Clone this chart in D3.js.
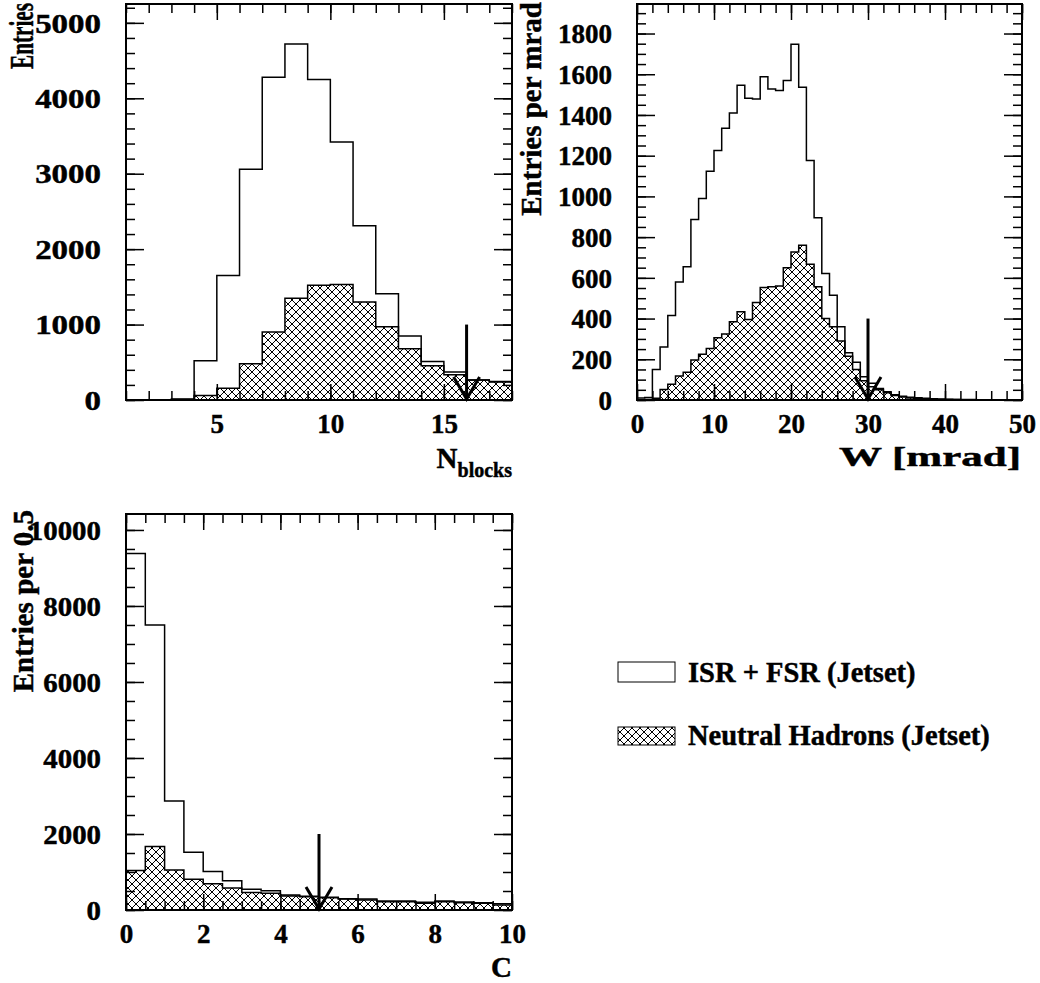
<!DOCTYPE html>
<html>
<head>
<meta charset="utf-8">
<script src="https://cdn.jsdelivr.net/npm/d3@7"></script>
<style>
  body { margin: 0; background: #fff; }
  svg text { font-family: "Liberation Serif", "Times New Roman", serif; font-weight: bold; fill: #000; stroke: #000; stroke-width: 0.45px; }
</style>
</head>
<body>
<svg id="fig" width="1040" height="983"></svg>
<script>
// ---- data ----
// N_blocks, bins of width 1 from 1 to 18
var nblkLo = 1, nblkBin = 1;
var nblkIsr = [0, 0, 12, 520, 1650, 3060, 4280, 4720, 4250, 3420, 2310, 1410, 850, 510, 370, 265, 245];
var nblkHad = [0, 0, 5, 60, 155, 480, 900, 1350, 1520, 1530, 1300, 970, 680, 455, 335, 265, 240];
var nblkTicks = [5, 10, 15];
var nblkYTicks = [0, 1000, 2000, 3000, 4000, 5000];
var nblkCut = 16;

// W [mrad], bins of width 1 from 0 to 50
var wLo = 0, wBin = 1;
var wIsr = [10, 12, 150, 260, 415, 580, 655, 887, 990, 1124,
            1226, 1335, 1410, 1546, 1482, 1479, 1588, 1528, 1520, 1569,
            1747, 1536, 1176, 895, 621, 515, 360, 232, 185, 114,
            82, 57, 41, 26, 18, 14, 11, 8, 6, 5,
            4, 3, 2, 2, 1, 1, 1, 0, 0, 0];
var wHad = [0, 3, 8, 52, 77, 118, 136, 196, 225, 253,
            306, 324, 384, 433, 395, 479, 552, 556, 560, 650,
            727, 760, 667, 556, 400, 360, 290, 215, 150, 95,
            65, 50, 35, 22, 15, 10, 8, 5, 4, 3,
            2, 2, 1, 1, 0, 0, 0, 0, 0, 0];
var wTicks = [0, 10, 20, 30, 40, 50];
var wYTicks = [0, 200, 400, 600, 800, 1000, 1200, 1400, 1600, 1800];
var wCut = 30;

// C, bins of width 0.5 from 0 to 10
var cLo = 0, cBin = 0.5;
var cIsr = [9380, 7500, 2870, 1520, 1010, 770, 545, 505, 395, 360,
            333, 298, 290, 237, 237, 202, 237, 210, 193, 166];
var cHad = [1040, 1670, 1050, 810, 690, 580, 460, 440, 368, 350,
            320, 290, 263, 219, 219, 175, 219, 193, 175, 131];
var cTicks = [0, 2, 4, 6, 8, 10];
var cYTicks = [0, 2000, 4000, 6000, 8000, 10000];
var cCut = 5;

var legendLabels = ["ISR + FSR (Jetset)", "Neutral Hadrons (Jetset)"];

var svg = d3.select('#fig');

// cross hatch
var pat = svg.append('defs').append('pattern')
  .attr('id', 'xhatch')
  .attr('patternUnits', 'userSpaceOnUse')
  .attr('width', 8).attr('height', 8);
pat.append('rect').attr('width', 8).attr('height', 8).attr('fill', '#fff');
pat.append('path')
  .attr('d', 'M-1,-1L9,9M-1,9L9,-1')
  .attr('stroke', '#000').attr('stroke-width', 1);

function stepPts(lo, bw, vals) {
  var pts = [[lo, 0]];
  vals.forEach(function(v, i) {
    pts.push([lo + i * bw, v]);
    pts.push([lo + (i + 1) * bw, v]);
  });
  pts.push([lo + vals.length * bw, 0]);
  return pts;
}

// factor to squeeze/stretch a text along its own direction to a given length
function fitText(t, len) {
  return len / t.node().getComputedTextLength();
}

function panel(p) {
  var g = svg.append('g');
  var x = d3.scaleLinear().domain(p.xdom).range([p.left, p.right]);
  var y = d3.scaleLinear().domain(p.ydom).range([p.bottom, p.top]);
  var line = d3.line().x(function(d) { return x(d[0]); }).y(function(d) { return y(d[1]); });

  g.append('path')
    .attr('d', line(stepPts(p.lo, p.bw, p.had)))
    .attr('fill', 'url(#xhatch)')
    .attr('stroke', '#000').attr('stroke-width', 1.5);
  g.append('path')
    .attr('d', line(stepPts(p.lo, p.bw, p.isr)))
    .attr('fill', 'none')
    .attr('stroke', '#000').attr('stroke-width', 1.5);

  var xMinor = d3.range(p.xdom[0], p.xdom[1] + 1e-9, p.xMinor);
  var yMinor = d3.range(0, p.ydom[1], p.yMinor);

  // major ticks + labels
  var yl = g.append('g').attr('transform', 'translate(' + p.left + ',0)')
    .call(d3.axisLeft(y).tickValues(p.yTicks).tickSizeInner(-18).tickSizeOuter(0).tickPadding(25).tickFormat(d3.format('d')));
  var xb = g.append('g').attr('transform', 'translate(0,' + p.bottom + ')')
    .call(d3.axisBottom(x).tickValues(p.xTicks).tickSizeInner(-16).tickSizeOuter(0).tickPadding(14).tickFormat(d3.format('d')));
  // mirrored ticks
  g.append('g').attr('transform', 'translate(' + p.right + ',0)')
    .call(d3.axisRight(y).tickValues(p.yTicks).tickSizeInner(-18).tickSizeOuter(0).tickFormat(''));
  g.append('g').attr('transform', 'translate(0,' + p.top + ')')
    .call(d3.axisTop(x).tickValues(p.xTicks).tickSizeInner(-16).tickSizeOuter(0).tickFormat(''));
  // minor ticks
  g.append('g').attr('transform', 'translate(' + p.left + ',0)')
    .call(d3.axisLeft(y).tickValues(yMinor).tickSizeInner(-9).tickSizeOuter(0).tickFormat(''));
  g.append('g').attr('transform', 'translate(' + p.right + ',0)')
    .call(d3.axisRight(y).tickValues(yMinor).tickSizeInner(-9).tickSizeOuter(0).tickFormat(''));
  g.append('g').attr('transform', 'translate(0,' + p.bottom + ')')
    .call(d3.axisBottom(x).tickValues(xMinor).tickSizeInner(-9).tickSizeOuter(0).tickFormat(''));
  g.append('g').attr('transform', 'translate(0,' + p.top + ')')
    .call(d3.axisTop(x).tickValues(xMinor).tickSizeInner(-9).tickSizeOuter(0).tickFormat(''));

  g.selectAll('.domain').remove();
  g.selectAll('.tick line').attr('stroke', '#000').attr('stroke-width', 1.5);
  yl.attr('font-size', 27).attr('font-family', null);
  xb.attr('font-size', 27).attr('font-family', null);
  yl.selectAll('text').attr('dy', '0.34em');
  if (p.yScaleX) {
    yl.selectAll('text')
      .attr('x', -25 / p.yScaleX)
      .attr('transform', 'scale(' + p.yScaleX + ',1)');
  }

  // frame
  g.append('rect')
    .attr('x', p.left).attr('y', p.top)
    .attr('width', p.right - p.left).attr('height', p.bottom - p.top)
    .attr('fill', 'none').attr('stroke', '#000').attr('stroke-width', 2);

  // cut arrow
  var ax = x(p.cut), a0 = y(0);
  g.append('line')
    .attr('x1', ax).attr('x2', ax)
    .attr('y1', y(p.cutTop)).attr('y2', a0 - 1)
    .attr('stroke', '#000').attr('stroke-width', 3);
  g.append('path')
    .attr('d', 'M' + (ax - 13) + ',' + (a0 - 23) + 'L' + ax + ',' + (a0 - 1) + 'L' + (ax + 13) + ',' + (a0 - 23))
    .attr('fill', 'none').attr('stroke', '#000').attr('stroke-width', 3);

  // y title
  var yt = g.append('text')
    .attr('text-anchor', 'end')
    .attr('font-size', p.ytSize || 29)
    .text(p.ytitle);
  var s = p.ytLen ? fitText(yt, p.ytLen) : 1;
  yt.attr('transform', 'translate(' + p.ytX + ',' + p.ytY + ') rotate(-90) scale(' + s + ',1)');
  return g;
}

var g1 = panel({
  left: 126, right: 512, top: 4, bottom: 400,
  xdom: [1, 18], ydom: [0, 5250], xMinor: 1, yMinor: 200,
  lo: nblkLo, bw: nblkBin, isr: nblkIsr, had: nblkHad,
  xTicks: nblkTicks, yTicks: nblkYTicks, yScaleX: 1.22,
  cut: nblkCut, cutTop: 1000,
  ytitle: 'Entries', ytX: 33, ytY: 3, ytLen: 66, ytSize: 34
});
g1.append('text').attr('x', 512).attr('y', 468).attr('text-anchor', 'end')
  .call(function(t) {
    t.append('tspan').attr('font-size', 29).text('N');
    t.append('tspan').attr('font-size', 20).attr('dy', 9).text('blocks');
  });

var g2 = panel({
  left: 637, right: 1022, top: 4, bottom: 400,
  xdom: [0, 50], ydom: [0, 1945], xMinor: 2, yMinor: 50,
  lo: wLo, bw: wBin, isr: wIsr, had: wHad,
  xTicks: wTicks, yTicks: wYTicks,
  cut: wCut, cutTop: 400,
  ytitle: 'Entries per mrad', ytX: 541, ytY: 2
});
var wt = g2.append('text').attr('text-anchor', 'end')
  .attr('font-size', 28).text('W [mrad]');
wt.attr('transform', 'translate(1021,466) scale(' + fitText(wt, 182) + ',1)');

var g3 = panel({
  left: 126, right: 512, top: 514, bottom: 910,
  xdom: [0, 10], ydom: [0, 10420], xMinor: 0.5, yMinor: 500,
  lo: cLo, bw: cBin, isr: cIsr, had: cHad,
  xTicks: cTicks, yTicks: cYTicks, yScaleX: 1.07,
  cut: cCut, cutTop: 2000,
  ytitle: 'Entries per 0.5', ytX: 33, ytY: 510
});
g3.append('text').attr('x', 512).attr('y', 977).attr('text-anchor', 'end')
  .attr('font-size', 29).text('C');

// legend
var leg = svg.append('g');
leg.append('rect').attr('x', 618).attr('y', 662).attr('width', 57).attr('height', 20)
  .attr('fill', '#fff').attr('stroke', '#000').attr('stroke-width', 1);
leg.append('rect').attr('x', 618).attr('y', 727).attr('width', 57).attr('height', 18)
  .attr('fill', 'url(#xhatch)').attr('stroke', '#000').attr('stroke-width', 1);
leg.selectAll('text.lab').data(legendLabels).enter().append('text')
  .attr('class', 'lab')
  .attr('x', 688)
  .attr('y', function(d, i) { return i === 0 ? 682 : 745; })
  .attr('font-size', 28.5)
  .text(function(d) { return d; });
</script>
</body>
</html>
